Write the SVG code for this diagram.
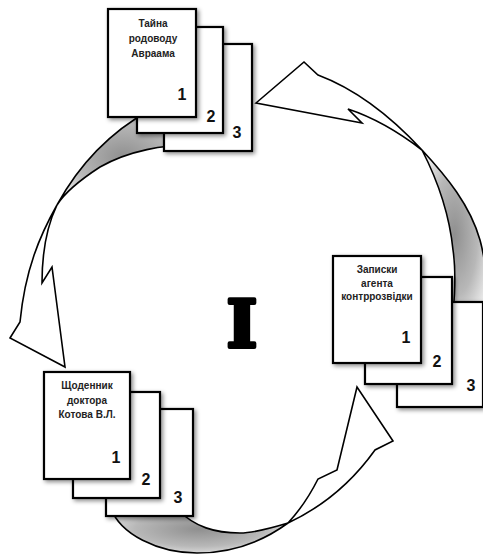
<svg xmlns="http://www.w3.org/2000/svg" width="483" height="554" viewBox="0 0 483 554">
<defs>
<radialGradient id="shade" cx="0.5" cy="0.5" r="0.6">
<stop offset="0" stop-color="#8f8f8f"/>
<stop offset="0.6" stop-color="#b8b8b8"/>
<stop offset="1" stop-color="#eeeeee"/>
</radialGradient>
<filter id="sh" x="-20%" y="-20%" width="150%" height="150%">
<feDropShadow dx="2" dy="2" stdDeviation="2" flood-color="#000" flood-opacity="0.45"/>
</filter>
</defs>
<style>
.page{fill:#fff;stroke:#000;stroke-width:2.2;filter:url(#sh)}
.lbl{font-family:"Liberation Sans",Arial,sans-serif;font-weight:bold;font-size:10px;fill:#222;text-anchor:middle}
.num{font-family:"Liberation Sans",Arial,sans-serif;font-weight:bold;font-size:16px;fill:#111;text-anchor:middle}
.wh{fill:#fff;stroke:#000;stroke-width:1.6;stroke-linejoin:miter}
.gr{fill:url(#shade);stroke:#000;stroke-width:1.6}
</style>
<rect width="483" height="554" fill="#fff"/>
<g id="connectors">
<!-- arrow 1: right stack -> top stack -->
<path class="gr" d="M422,150 C447,177 470,205 480,240 C486,262 488,290 486,320 L452,320 C455,300 456,270 453,250 C450,220 440,185 422,150 Z"/>
<path class="wh" d="M256,103 L304,62 L318,75 C350,87 385,110 422,150 C400,133 375,118 348,109 L362,123 Z"/>
<!-- arrow 2: top stack -> left stack -->
<path class="gr" d="M57,205 C75,172 105,135 150,110 L190,110 L190,145 C165,145 130,150 100,167 C80,180 65,192 57,205 Z"/>
<path class="wh" d="M57,205 C40,235 25,270 20,322 L10,338 L65,367 L52,267 L42,283 C42,260 45,230 57,205 Z"/>
<!-- arrow 3: left stack -> right stack -->
<path class="gr" d="M110,505 C118,535 160,553 197,553 C230,553 262,542 288,523 C265,530 250,533 240,533 C215,533 195,527 178,510 Z"/>
<path class="wh" d="M288,523 C320,508 350,485 375,450 L393,441 L357,387 L337,470 L318,479 C310,495 300,510 288,523 Z"/>
</g>
<g id="stack-top">
<rect class="page" x="164" y="44" width="88" height="107"/>
<rect class="page" x="137" y="27" width="86" height="106"/>
<rect class="page" x="108" y="9" width="88" height="108"/>
<text class="lbl" x="153" y="27">Тайна</text>
<text class="lbl" x="153" y="42">родоводу</text>
<text class="lbl" x="153" y="57">Авраама</text>
<text class="num" x="182" y="100">1</text>
<text class="num" x="211" y="122">2</text>
<text class="num" x="237" y="138">3</text>
</g>
<g id="stack-right">
<rect class="page" x="397" y="302" width="86" height="105"/>
<rect class="page" x="365" y="277" width="87" height="107"/>
<rect class="page" x="333" y="256" width="88" height="107"/>
<text class="lbl" x="377" y="273">Записки</text>
<text class="lbl" x="377" y="287">агента</text>
<text class="lbl" x="377" y="300">контррозвідки</text>
<text class="num" x="406" y="343">1</text>
<text class="num" x="437" y="367">2</text>
<text class="num" x="471" y="391">3</text>
</g>
<g id="stack-left">
<rect class="page" x="106" y="409" width="87" height="107"/>
<rect class="page" x="73" y="392" width="87" height="106"/>
<rect class="page" x="44" y="372" width="86" height="107"/>
<text class="lbl" x="87" y="389">Щоденник</text>
<text class="lbl" x="87" y="404">доктора</text>
<text class="lbl" x="87" y="418">Котова В.Л.</text>
<text class="num" x="116" y="463">1</text>
<text class="num" x="146" y="485">2</text>
<text class="num" x="178" y="503">3</text>
</g>
<g id="numeral">
<text x="242" y="347" font-family="DejaVu Serif, serif" font-weight="bold" font-size="66" text-anchor="middle" fill="#000" stroke="#000" stroke-width="4" stroke-linejoin="round">I</text>
</g>
</svg>
